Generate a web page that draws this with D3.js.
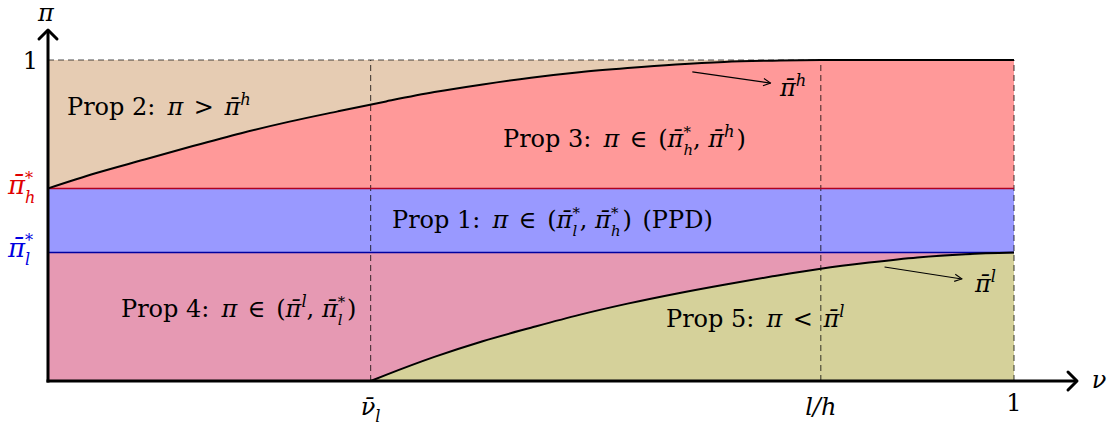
<!DOCTYPE html>
<html><head><meta charset="utf-8">
<script src="https://cdn.jsdelivr.net/npm/d3@7"></script>
<style>body{margin:0;background:#fff}svg{display:block}text{font-family:"DejaVu Serif",serif}</style>
</head><body><svg id="c" width="1113" height="434"></svg>
<script>
// ---- data ----
const piHStar = 0.6;         // \bar\pi_h^*
const piLStar = 0.4;         // \bar\pi_l^*
const nuL = 0.334;           // \bar\nu_l
const lOverH = 0.8;          // l/h
const upperCurve = [[0,0.6],[0.05,0.648],[0.1,0.69],[0.15,0.732],[0.2,0.772],[0.25,0.808],[0.3,0.84],[0.35,0.871],[0.4,0.9],[0.45,0.924],[0.5,0.945],[0.55,0.962],[0.6,0.975],[0.65,0.986],[0.7,0.994],[0.75,0.998],[0.8,1.0],[1.0,1.0]];
const lowerCurve = [[0.334,0],[0.35,0.019],[0.4,0.075],[0.45,0.124],[0.5,0.166],[0.55,0.206],[0.6,0.241],[0.65,0.272],[0.7,0.3],[0.75,0.326],[0.8,0.35],[0.85,0.369],[0.9,0.385],[0.95,0.395],[1.0,0.4]];
const xTickVals = [nuL, lOverH, 1];
const yTickVals = [1];
const colors = {prop2:"#e6ccb3", prop3:"#ff9999", prop1:"#9999ff", prop4:"#e699b3", prop5:"#d5d19a"};

// ---- drawing ----
const svg = d3.select("#c");
const x = d3.scaleLinear([0,1],[48,1014]);
const y = d3.scaleLinear([0,1],[381,60]);
const FS = 24;

function mtext(sel, px, py, parts, fs, fill, anchor){
  const t = sel.append("text").attr("x",px).attr("y",py).attr("font-size",fs).attr("fill",fill||"#000");
  let cur = 0, pend = 0;
  const go = tgt => {const d = tgt-cur; cur = tgt; return d;};
  const add = () => {const ts = t.append("tspan"); if(pend){ts.attr("dx",pend); pend=0;} return ts;};
  parts.forEach(p=>{
    const [s,k] = p;
    if(k==="rm"||k==="it"){
      if(p[2]) pend += p[2];
      add().attr("dy",go(0)).attr("font-style",k==="it"?"italic":"normal").text(s);
    } else if(k==="sup"){
      add().attr("dy",go(-0.42*fs)).attr("font-size",0.68*fs).attr("font-style","italic").text(s);
    } else if(k==="sub"){
      add().attr("dy",go(0.28*fs)).attr("font-size",0.68*fs).attr("font-style","italic").text(s);
    } else if(k==="ss"){ // [sup, sub]
      const sp = add().attr("dy",go(-0.4*fs)).attr("font-size",0.62*fs).attr("font-style","normal").text(s);
      const w1 = sp.node().getComputedTextLength();
      const sb = t.append("tspan").attr("dx",-w1).attr("dy",go(0.34*fs)).attr("font-size",0.62*fs).attr("font-style","italic").text(p[2]);
      const w2 = sb.node().getComputedTextLength();
      if(w1>w2) pend = w1-w2;
    }
  });
  if(anchor) t.attr("text-anchor",anchor);
  return t;
}
const PB = "\u03C0\u0304";
const G = 12; // gap after "Prop n:"
const R = 3;  // extra relation spacing

// regions
svg.append("rect").attr("x",x(0)).attr("y",y(1)).attr("width",x(lOverH)-x(0)).attr("height",y(piHStar)-y(1)).attr("fill",colors.prop2);
svg.append("path").datum(upperCurve).attr("fill",colors.prop3)
  .attr("d",d3.area().x(d=>x(d[0])).y0(y(piHStar)).y1(d=>y(d[1])));
svg.append("rect").attr("x",x(0)).attr("y",y(piHStar)).attr("width",x(1)-x(0)).attr("height",y(piLStar)-y(piHStar)).attr("fill",colors.prop1);
svg.append("rect").attr("x",x(0)).attr("y",y(piLStar)).attr("width",x(1)-x(0)).attr("height",y(0)-y(piLStar)).attr("fill",colors.prop4);
svg.append("path").datum(lowerCurve).attr("fill",colors.prop5)
  .attr("d",d3.area().x(d=>x(d[0])).y0(y(0)).y1(d=>y(d[1])));

// dashed guides
const dash = {stroke:"#000","stroke-opacity":0.7,"stroke-width":1.1,"stroke-dasharray":"6,4"};
function dl(x1,y1,x2,y2){const l=svg.append("line").attr("x1",x1).attr("y1",y1).attr("x2",x2).attr("y2",y2);Object.entries(dash).forEach(([k,v])=>l.attr(k,v));}
dl(x(0),y(1),x(lOverH),y(1));
dl(x(nuL),y(0),x(nuL),y(1));
dl(x(lOverH),y(0),x(lOverH),y(1));
dl(x(1),y(0),x(1),y(1));

// band borders
svg.append("line").attr("x1",x(0)).attr("x2",x(1)).attr("y1",y(piHStar)).attr("y2",y(piHStar)).attr("stroke","#b00020").attr("stroke-width",1.5);
svg.append("line").attr("x1",x(0)).attr("x2",x(1)).attr("y1",y(piLStar)).attr("y2",y(piLStar)).attr("stroke","#0000a0").attr("stroke-width",1.5);

// curves
const line = d3.line().x(d=>x(d[0])).y(d=>y(d[1])).curve(d3.curveMonotoneX);
svg.append("path").datum(upperCurve).attr("d",line).attr("fill","none").attr("stroke","#000").attr("stroke-width",2);
svg.append("path").datum(lowerCurve).attr("d",line).attr("fill","none").attr("stroke","#000").attr("stroke-width",2);

// axes
svg.append("line").attr("x1",x(0)-1.5).attr("x2",1076).attr("y1",y(0)).attr("y2",y(0)).attr("stroke","#000").attr("stroke-width",3);
svg.append("line").attr("x1",x(0)).attr("x2",x(0)).attr("y1",y(0)+1.5).attr("y2",31).attr("stroke","#000").attr("stroke-width",3);
svg.append("path").attr("d",`M1068,372 L1077,${y(0)} L1068,390`).attr("fill","none").attr("stroke","#000").attr("stroke-width",3).attr("stroke-linecap","round").attr("stroke-linejoin","round");
svg.append("path").attr("d",`M${x(0)-9},39 L${x(0)},30 L${x(0)+9},39`).attr("fill","none").attr("stroke","#000").attr("stroke-width",3).attr("stroke-linecap","round").attr("stroke-linejoin","round");

// axis labels
mtext(svg, x(0)-2, 21, [["\u03C0","it"]], 24, "#000", "middle");
mtext(svg, 1099, 388, [["\u03BD","it"]], 24, "#000", "middle");

// ticks
const xTickParts = [[["\u03BD\u0304","it"],["l","sub"]],[["l/h","it"]],[["1","rm"]]];
xTickVals.forEach((v,i)=>{
  mtext(svg, x(v), i===2?411:415, xTickParts[i], 24, "#000", "middle");
});
yTickVals.forEach(v=>mtext(svg, 38, y(v)+9, [["1","rm"]], 24, "#000", "end"));
mtext(svg, 8, y(piHStar)+6, [[PB,"it"],["*","ss","h"]], 26, "#e00000");
mtext(svg, 8, y(piLStar)+4, [[PB,"it"],["*","ss","l"]], 26, "#0000e0");

// region labels
mtext(svg, 67, 115, [["Prop 2:","rm"],["\u03C0","it",G],[" > ","rm",R],[PB,"it",R],["h","sup"]], FS);
mtext(svg, 503, 147, [["Prop 3:","rm"],["\u03C0","it",G],[" \u2208 ","rm",R],["(","rm",R],[PB,"it"],["*","ss","h"],[", ","rm"],[PB,"it"],["h","sup"],[")","rm",2]], FS);
mtext(svg, 392, 228, [["Prop 1:","rm"],["\u03C0","it",G],[" \u2208 ","rm",R],["(","rm",R],[PB,"it"],["*","ss","l"],[", ","rm"],[PB,"it"],["*","ss","h"],[")","rm",2],[" (PPD)","rm",3]], FS);
mtext(svg, 121, 317, [["Prop 4:","rm"],["\u03C0","it",G],[" \u2208 ","rm",R],["(","rm",R],[PB,"it"],["l","sup"],[", ","rm"],[PB,"it"],["*","ss","l"],[")","rm",2]], FS);
mtext(svg, 666, 327, [["Prop 5:","rm"],["\u03C0","it",G],[" < ","rm",R],[PB,"it",R],["l","sup"]], FS);

// annotation arrows
svg.append("defs").append("marker").attr("id","ah").attr("viewBox","0 0 10 10").attr("refX",9).attr("refY",5)
  .attr("markerWidth",9).attr("markerHeight",9).attr("markerUnits","userSpaceOnUse").attr("orient","auto")
  .append("path").attr("d","M1,1 L9,5 L1,9").attr("fill","none").attr("stroke","#000").attr("stroke-width",1.2);
function arrow(a,b){svg.append("line").attr("x1",x(a[0])).attr("y1",y(a[1])).attr("x2",x(b[0])).attr("y2",y(b[1])).attr("stroke","#000").attr("stroke-width",1.1).attr("marker-end","url(#ah)");}
arrow([0.667,0.963],[0.748,0.928]);
mtext(svg, 780, 96, [[PB,"it"],["h","sup"]], FS);
arrow([0.866,0.355],[0.946,0.318]);
mtext(svg, 975, 292, [[PB,"it"],["l","sup"]], FS);
</script></body></html>
